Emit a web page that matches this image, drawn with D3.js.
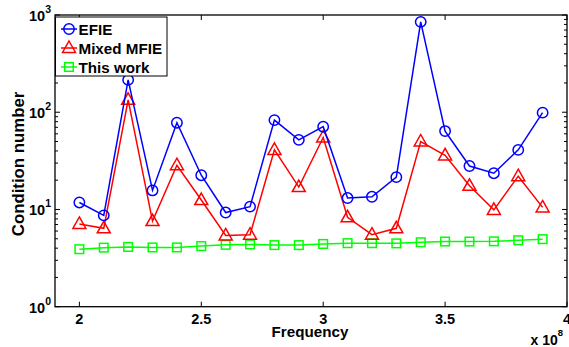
<!DOCTYPE html>
<html><head><meta charset="utf-8">
<script src="https://cdn.jsdelivr.net/npm/d3@7"></script>
<style>body{margin:0;background:#fff;} text{font-family:"Liberation Sans",Arial,sans-serif;font-weight:bold;}</style>
</head><body>
<svg id="c" width="569" height="347"></svg>
<script>
const freq = [2.0,2.1,2.2,2.3,2.4,2.5,2.6,2.7,2.8,2.9,3.0,3.1,3.2,3.3,3.4,3.5,3.6,3.7,3.8,3.9];
const efie = [11.8,8.7,215,15.7,78,22.5,9.3,10.7,83,52,71,13.1,13.5,21.5,850,64,28,23.6,41,99];
const mfie = [7.1,6.4,134,7.6,28.5,12.5,5.4,5.5,41,17,55,8.3,5.5,6.4,50,36,17.5,9.9,22,10.5];
const thiswork = [3.9,4.05,4.12,4.07,4.07,4.2,4.33,4.37,4.3,4.3,4.42,4.5,4.5,4.48,4.6,4.68,4.68,4.7,4.82,4.95];
const xTicks = [2,2.5,3,3.5,4];
const yTicks = [1,10,100,1000];
const yExps = ["0","1","2","3"];
const seriesNames = ["EFIE","Mixed MFIE","This work"];
const seriesColors = ["#0000ff","#ff0000","#00ff00"];

const svg = d3.select("#c");
const L=55,R=567,T=15,B=306.7;
const x = d3.scaleLinear().domain([1.9,4]).range([L,R]);
const y = d3.scaleLog().domain([1,1000]).range([B,T]);

// frame
svg.append("rect").attr("x",L).attr("y",T).attr("width",R-L).attr("height",B-T)
  .attr("fill","none").attr("stroke","#000").attr("stroke-width",1.3);

// x ticks
xTicks.forEach(v=>{
  svg.append("line").attr("x1",x(v)).attr("x2",x(v)).attr("y1",B).attr("y2",B-5).attr("stroke","#000");
  svg.append("line").attr("x1",x(v)).attr("x2",x(v)).attr("y1",T).attr("y2",T+5).attr("stroke","#000");
  svg.append("text").attr("x",x(v)).attr("y",B+17.5).attr("text-anchor","middle").attr("font-size",14.5).text(v);
});
// y ticks
const minor=[];
for(let d=1;d<1000;d*=10) for(let k=2;k<=9;k++) minor.push(d*k);
minor.forEach(v=>{
  svg.append("line").attr("x1",L).attr("x2",L+3).attr("y1",y(v)).attr("y2",y(v)).attr("stroke","#000");
  svg.append("line").attr("x1",R).attr("x2",R-3).attr("y1",y(v)).attr("y2",y(v)).attr("stroke","#000");
});
yTicks.forEach((v,i)=>{
  svg.append("line").attr("x1",L).attr("x2",L+5).attr("y1",y(v)).attr("y2",y(v)).attr("stroke","#000");
  svg.append("line").attr("x1",R).attr("x2",R-5).attr("y1",y(v)).attr("y2",y(v)).attr("stroke","#000");
  const t = svg.append("text").attr("x",L-4).attr("y",y(v)+6).attr("text-anchor","end").attr("font-size",14.5);
  t.append("tspan").text("10");
  t.append("tspan").attr("dy",-8).attr("font-size",10.5).text(yExps[i]);
});

// axis labels
svg.append("text").attr("x",310).attr("y",337).attr("text-anchor","middle").attr("font-size",15.2).text("Frequency");
const xe = svg.append("text").attr("x",563).attr("y",345).attr("text-anchor","end").attr("font-size",14);
xe.append("tspan").text("x 10");
xe.append("tspan").attr("dy",-9).attr("font-size",9.5).text("8");
svg.append("text").attr("transform","translate(24,164) rotate(-90)").attr("text-anchor","middle").attr("font-size",16.8).text("Condition number");

const data=[efie,mfie,thiswork];
const line = d3.line().x((d,i)=>x(freq[i])).y(d=>y(d));
function marker(g,type,cx,cy,col){
  if(type===0) g.append("circle").attr("cx",cx).attr("cy",cy).attr("r",5.2).attr("fill","none").attr("stroke",col).attr("stroke-width",1.5);
  else if(type===1) g.append("path").attr("d",`M${cx},${cy-7}L${cx+6.5},${cy+4.5}L${cx-6.5},${cy+4.5}Z`).attr("fill","none").attr("stroke",col).attr("stroke-width",1.5);
  else g.append("rect").attr("x",cx-4.3).attr("y",cy-4.3).attr("width",8.6).attr("height",8.6).attr("fill","none").attr("stroke",col).attr("stroke-width",1.5);
}
[2,1,0].forEach(s=>{
  const g=svg.append("g");
  g.append("path").attr("d",line(data[s])).attr("fill","none").attr("stroke",seriesColors[s]).attr("stroke-width",1.5);
  data[s].forEach((v,i)=>marker(g,s,x(freq[i]),y(v),seriesColors[s]));
});

// legend
const lg = svg.append("g");
lg.append("rect").attr("x",55.5).attr("y",17).attr("width",111.5).attr("height",59).attr("fill","#fff").attr("stroke","#000").attr("stroke-width",1);
seriesNames.forEach((n,i)=>{
  const yy=29+i*19;
  lg.append("line").attr("x1",61).attr("x2",77).attr("y1",yy).attr("y2",yy).attr("stroke",seriesColors[i]).attr("stroke-width",1.5);
  marker(lg,i,69,yy,seriesColors[i]);
  lg.append("text").attr("x",78.5).attr("y",yy+5.5).attr("font-size",15.2).text(n);
});
</script>
</body></html>
